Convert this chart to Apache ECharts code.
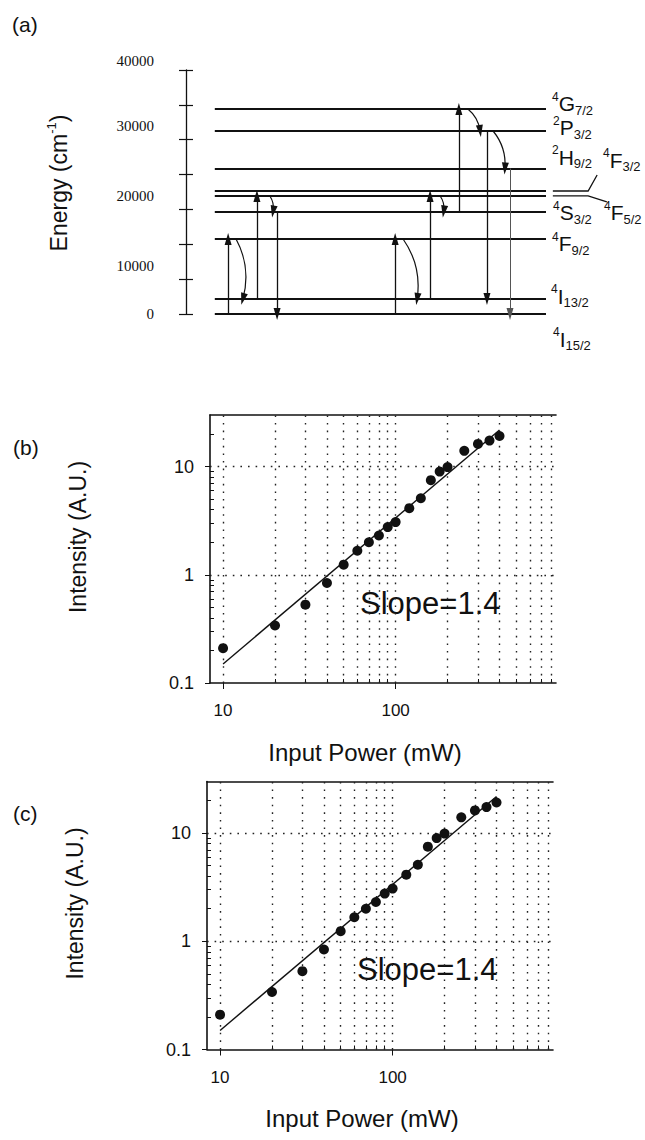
<!DOCTYPE html>
<html>
<head>
<meta charset="utf-8">
<title>Er3+ upconversion</title>
<script src="https://cdn.jsdelivr.net/npm/echarts@6/dist/echarts.min.js"></script>
<style>
  html, body { margin: 0; padding: 0; background: #fff; }
  #chart { width: 645px; height: 1140px; }
</style>
</head>
<body>
<div id="chart"></div>
<script>
/* (a) diagrama de niveles + (b), (c) intensidad vs potencia */

// (a) niveles: posicion leida sobre el eje dibujado (0..35000)
var LEVELS = ["4I15/2", "4I13/2", "4F9/2", "4S3/2", "4F5/2", "4F3/2", "2H9/2", "2P3/2", "4G7/2"];
var LEVEL_E = [0, 2150, 10760, 14700, 16930, 17640, 20870, 26250, 29400];
var ENERGY_TICKS = ["40000", "30000", "20000", "10000", "0"];
// flechas rectas: [x, nivel inicial, nivel final]
var PUMP_ARROWS = [[11.7, 0, 2], [19.7, 1, 4], [58.1, 0, 2], [67.8, 1, 4], [75.8, 3, 8]];
var EMIT_ARROWS = [[25.3, 3, 0], [83.6, 7, 1]];
var WEAK_ARROWS = [[90, 6, 0]];
// relajacion no radiativa: [x inicio, x fin, nivel inicial, nivel final]
var RELAX_ARROWS = [[13.9, 15.8, 2, 1], [23.3, 24.2, 4, 3], [60.3, 64.2, 2, 1],
                    [70.6, 71.6, 4, 3], [78.3, 81.7, 8, 7], [85.3, 88.6, 7, 6]];
// desdoblamiento 4F3/2 - 4F5/2: [nivel, x fin guia, E fin guia]
var SPLIT_LEADERS = [[5, 114.2, 19940], [4, 116.9, 16070]];

// (b) y (c): mismos datos
var POWER = [10, 20, 30, 40, 50, 60, 70, 80, 90, 100, 120, 140, 160, 180, 200, 250, 300, 350, 400];
var INTENSITY = [0.21, 0.34, 0.53, 0.84, 1.24, 1.67, 2.0, 2.31, 2.76, 3.07, 4.13, 5.1, 7.5, 9.0, 9.9, 14, 16.2, 17.4, 19.2];
var FIT_POWER = [10, 400];
var FIT_INTENSITY = [0.15, 21.8];
var X_MAJOR = [10, 100];
var X_MINOR = [20, 30, 40, 50, 60, 70, 80, 90, 200, 300, 400, 500, 600, 700, 800];
var Y_MAJOR = [0.1, 1, 10];
var Y_MINOR = [0.2, 0.3, 0.4, 0.5, 0.6, 0.7, 0.8, 0.9, 2, 3, 4, 5, 6, 7, 8, 9, 20];
var SLOPE_TEXT = "Slope=1.4";

var SANS = "'Liberation Sans', Arial, Helvetica, sans-serif";
var SERIF = "'Liberation Serif', 'Times New Roman', serif";
var INK = "#111";
var HEAD = "path://M5,0L10,18L0,18Z";

var chart = echarts.init(document.getElementById("chart"), null, { renderer: "svg" });

function vArrow(a) { return { coords: [[a[0], LEVEL_E[a[1]]], [a[0], LEVEL_E[a[2]]]] }; }
function cArrow(a) { return { coords: [[a[0], LEVEL_E[a[2]]], [a[1], LEVEL_E[a[3]]]] }; }

function arrowSeries(data, width, color, curve) {
  return {
    type: "lines", coordinateSystem: "cartesian2d", xAxisIndex: 0, yAxisIndex: 0,
    data: data, silent: true, clip: false, z: 3,
    symbol: ["none", HEAD], symbolSize: [0, [7, 12]], symbolOffset: [0, [0, 6]],
    lineStyle: { color: color, width: width, opacity: 1, curveness: curve || 0 },
    itemStyle: { color: color }
  };
}

/* ejes y series de un panel log-log; g = indice de grid */
function logPanel(g, xs, ys) {
  var xi = xs.length, yi = ys.length;
  var axisLine = { show: true, lineStyle: { color: INK, width: 1.6 } };
  xs.push(
    { type: "log", gridIndex: g, min: 8.4, max: 850, position: "bottom", axisLine: axisLine,
      axisTick: { customValues: X_MAJOR, length: 6, lineStyle: { color: INK } },
      axisLabel: { customValues: X_MAJOR, margin: 19, fontSize: 17, color: INK, fontFamily: SANS },
      splitLine: { show: false } },
    { type: "log", gridIndex: g, min: 8.4, max: 850, position: "bottom", axisLine: { show: false },
      axisTick: { customValues: X_MINOR, inside: true, length: 4, lineStyle: { color: INK } },
      axisLabel: { show: false }, splitLine: { show: false } },
    { type: "log", gridIndex: g, min: 8.4, max: 850, position: "top", axisLine: axisLine,
      axisTick: { show: false }, axisLabel: { show: false }, splitLine: { show: false } }
  );
  ys.push(
    { type: "log", gridIndex: g, min: 0.1, max: 30, position: "left", axisLine: axisLine,
      axisTick: { customValues: Y_MAJOR, length: 5, lineStyle: { color: INK } },
      axisLabel: { customValues: Y_MAJOR, margin: 16, fontSize: 18, color: INK, fontFamily: SANS },
      splitLine: { show: false } },
    { type: "log", gridIndex: g, min: 0.1, max: 30, position: "left", axisLine: { show: false },
      axisTick: { customValues: Y_MINOR, inside: true, length: 4, lineStyle: { color: INK } },
      axisLabel: { show: false }, splitLine: { show: false } }
  );
  var grid = X_MAJOR.concat(X_MINOR).map(function (v) { return { xAxis: v }; })
    .concat([{ yAxis: 1 }, { yAxis: 10 }]);
  return [
    { type: "line", xAxisIndex: xi, yAxisIndex: yi, silent: true, z: 3,
      data: FIT_POWER.map(function (p, i) { return [p, FIT_INTENSITY[i]]; }),
      showSymbol: false, lineStyle: { color: INK, width: 1.4 },
      markLine: { silent: true, symbol: "none", label: { show: false }, z: 1,
        lineStyle: { type: [1.6, 6], color: "#222", width: 1.4 }, data: grid } },
    { type: "scatter", xAxisIndex: xi, yAxisIndex: yi, silent: true, z: 5,
      symbol: "circle", symbolSize: 10, itemStyle: { color: INK, opacity: 1 },
      data: POWER.map(function (p, i) { return [p, INTENSITY[i]]; }) }
  ];
}

function txt(x, y, text, size, extra) {
  var el = { type: "text", x: x, y: y, silent: true,
    style: { text: text, fontSize: size, fontFamily: SANS, fill: INK, align: "left", verticalAlign: "middle" } };
  for (var k in (extra || {})) el.style[k] = extra[k];
  return el;
}

var LEVEL_RICH = {
  s: { fontSize: 12, lineHeight: 12, verticalAlign: "top", fontFamily: SANS, fill: INK },
  m: { fontSize: 21, lineHeight: 26, verticalAlign: "middle", fontFamily: SANS, fill: INK },
  b: { fontSize: 13, lineHeight: 13, verticalAlign: "bottom", fontFamily: SANS, fill: INK }
};
// [nivel, x, y] de cada rotulo
var LEVEL_LABEL_POS = [[8, 552, 103.5], [7, 553, 127.5], [6, 552, 157], [5, 603, 160],
  [3, 553, 212.5], [4, 604, 212.5], [2, 552, 243.5], [1, 551, 296], [0, 553, 339]];
var ENERGY_TICK_Y = [61, 126, 196, 266, 314];

var graphic = [];
graphic.push(txt(12, 24, "(a)", 21));
graphic.push({ type: "text", x: 59, y: 183, rotation: Math.PI / 2, silent: true,
  style: { text: "{a|Energy (cm}{s|-1}{a|)}", align: "center", verticalAlign: "middle",
    rich: { a: { fontSize: 23, lineHeight: 28, verticalAlign: "middle", fontFamily: SANS, fill: INK },
            s: { fontSize: 13, lineHeight: 13, verticalAlign: "top", fontFamily: SANS, fill: INK } } } });
ENERGY_TICKS.forEach(function (t, i) {
  graphic.push(txt(154, ENERGY_TICK_Y[i], t, 15, { align: "right", fontFamily: SERIF }));
});
LEVEL_LABEL_POS.forEach(function (p) {
  var n = LEVELS[p[0]];
  graphic.push({ type: "text", x: p[1], y: p[2], silent: true,
    style: { text: "{s|" + n[0] + "}{m|" + n[1] + "}{b|" + n.slice(2) + "}",
      align: "left", verticalAlign: "middle", rich: LEVEL_RICH } });
});

// paneles (b) y (c)
[["(b)", 0, 0], ["(c)", -3, 366.5]].forEach(function (p) {
  var dx = p[1], dy = p[2];
  graphic.push(txt(13, 447 + dy, p[0], 21));
  graphic.push(txt(78 + dx, 537 + dy, "Intensity (A.U.)", 23, { align: "center" }));
  graphic[graphic.length - 1].rotation = Math.PI / 2;
  graphic.push(txt(365 + dx, 752 + dy, "Input Power (mW)", 24, { align: "center" }));
  graphic.push(txt(360 + dx, 603 + dy, SLOPE_TEXT, 31));
});

var xAxes = [{ type: "value", gridIndex: 0, min: 0, max: 100, show: false }];
var yAxes = [
  { type: "value", gridIndex: 0, min: 0, max: 35000, interval: 5000, position: "left",
    axisLine: { show: true, lineStyle: { color: INK, width: 1.3 } },
    axisTick: { inside: true, length: 7, lineStyle: { color: INK, width: 1.2 } },
    axisLabel: { show: false }, splitLine: { show: false } },
  { type: "value", gridIndex: 0, min: 0, max: 35000, interval: 5000, position: "left",
    axisLine: { show: false },
    axisTick: { inside: false, length: 7, lineStyle: { color: INK, width: 1.2 } },
    axisLabel: { show: false }, splitLine: { show: false } }
];

var series = [
  { type: "lines", coordinateSystem: "cartesian2d", xAxisIndex: 0, yAxisIndex: 0, silent: true, clip: false,
    data: LEVEL_E.map(function (e) { return { coords: [[8, e], [100, e]] }; }),
    lineStyle: { color: INK, width: 1.8, opacity: 1 } },
  { type: "lines", coordinateSystem: "cartesian2d", xAxisIndex: 0, yAxisIndex: 0, silent: true, clip: false,
    polyline: true,
    data: SPLIT_LEADERS.map(function (s) {
      var e = LEVEL_E[s[0]];
      return { coords: [[101.9, e], [111.7, e], [s[1], s[2]]] };
    }),
    lineStyle: { color: INK, width: 1.3, opacity: 1 } },
  arrowSeries(PUMP_ARROWS.map(vArrow), 1.3, INK),
  arrowSeries(EMIT_ARROWS.map(vArrow), 1.3, INK),
  arrowSeries(WEAK_ARROWS.map(vArrow), 1, "#555"),
  arrowSeries(RELAX_ARROWS.map(cArrow), 1.2, INK, 0.2)
];
series = series.concat(logPanel(1, xAxes, yAxes), logPanel(2, xAxes, yAxes));

chart.setOption({
  animation: false,
  backgroundColor: "#fff",
  grid: [
    { left: 186, top: 70, width: 360, height: 244 },
    { left: 210, top: 415, width: 346, height: 268 },
    { left: 207, top: 781.5, width: 346, height: 268 }
  ],
  xAxis: xAxes,
  yAxis: yAxes,
  series: series,
  graphic: graphic
});
</script>
</body>
</html>
